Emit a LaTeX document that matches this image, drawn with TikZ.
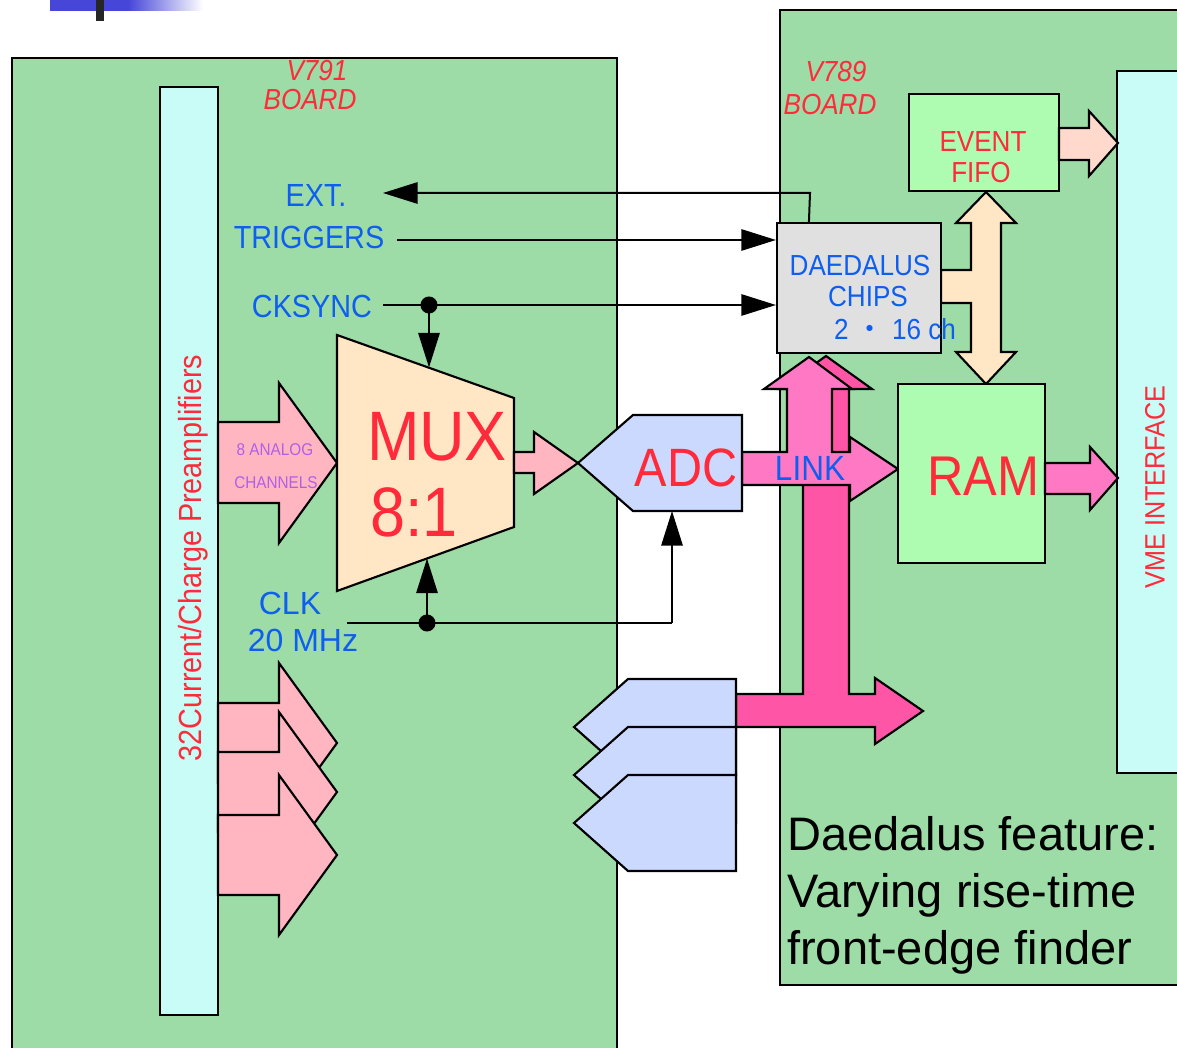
\documentclass[tikz,border=0pt]{standalone}
\usepackage{fontspec}
\usetikzlibrary{arrows.meta,calc}
\newfontfamily\condf[FakeStretch=0.9]{Liberation Sans}
\newfontfamily\plainf{Liberation Sans}
\newfontfamily\cjkf{Noto Sans CJK JP}
\newcommand\fsz[1]{\fontsize{#1}{#1}\selectfont}
\def\PX{0.75pt}
\definecolor{boardgreen}{HTML}{9DDCA7}
\definecolor{cyanbox}{HTML}{C9FBF7}
\definecolor{ltgreen}{HTML}{AEFCB1}
\definecolor{bisquec}{HTML}{FFE7C6}
\definecolor{ltpink}{HTML}{FFB6C1}
\definecolor{salmonc}{HTML}{FFD9CB}
\definecolor{hotlight}{HTML}{FF78C3}
\definecolor{hotdark}{HTML}{FF55A6}
\definecolor{adcblue}{HTML}{CCD9FF}
\definecolor{greybox}{HTML}{E0E0E0}
\definecolor{tred}{HTML}{FF2A3A}
\definecolor{tblue}{HTML}{0E5EF0}
\definecolor{tpurple}{HTML}{B05FE8}
\definecolor{decoblue}{HTML}{4646D8}
\begin{document}
\begin{tikzpicture}[x=0.75pt,y=-0.75pt,
  board/.style={draw=black, line width=1.5pt, fill=boardgreen, inner sep=0pt},
  colbox/.style={draw=black, line width=1.6pt, fill=cyanbox, inner sep=0pt},
  blk/.style={draw=black, line width=1.6pt, inner sep=0pt},
  shp/.style={draw=black, line width=1.6pt, line join=miter},
  sig/.style={draw=black, line width=1.5pt, -{Triangle[length=26pt,width=16pt]}},
  wire/.style={draw=black, line width=1.5pt},
  lbl/.style={inner sep=0pt, font=\condf\fsz{24}, text=tblue},
  ttl/.style={inner sep=0pt, font=\condf\itshape\fsz{21.75}, text=tred},
  feat/.style={inner sep=0pt, anchor=base west, font=\plainf\fsz{35.25}, text=black}
]
\useasboundingbox (0,0) rectangle (1177,1048);
\clip (0,0) rectangle (1177,1048);
\fill[white] (0,0) rectangle (1177,1048);

% decoration top-left
\fill[decoblue] (50,0) rectangle (129,11);
\shade[left color=decoblue, right color=white] (128,0) rectangle (203,11);
\fill[black!85] (96,0) rectangle (104,21);

% boards
\node[board, minimum width=605*\PX, minimum height=1002*\PX] (v791) at (314.5,559) {};
\node[board, minimum width=410*\PX, minimum height=975*\PX] (v789) at (985,497.5) {};

% columns
\node[colbox, minimum width=58*\PX, minimum height=928*\PX] (preamp) at (189,551) {};
\node[colbox, minimum width=73*\PX, minimum height=702*\PX] (vme) at (1153.5,422) {};

% preamp arrows
\filldraw[shp, fill=ltpink] (218,422) -- (279,422) -- (279,383) -- (337,463) -- (279,543) -- (279,503) -- (218,503) -- cycle;
\foreach \c in {743,792,855}{
  \filldraw[shp, fill=ltpink] (218,\c-40) -- (279,\c-40) -- (279,\c-80) -- (337,\c) -- (279,\c+80) -- (279,\c+40) -- (218,\c+40) -- cycle;
}

% MUX
\filldraw[shp, fill=bisquec] (337,335) coordinate (muxTL) -- (514,398) coordinate (muxTR) -- (514,527) coordinate (muxBR) -- (337,591) coordinate (muxBL) -- cycle;
\filldraw[shp, fill=ltpink] (514,452) -- (534,452) -- (534,432) -- (578,463) -- (534,494) -- (534,473) -- (514,473) -- cycle;

% dark pink bus (vertical + bottom)
\filldraw[shp, fill=hotdark] (736,694) -- (803,694) -- (803,389) -- (780,389) -- (826,356) -- (872,389) -- (849,389) -- (849,694) -- (875,694) -- (875,678) -- (923,711) -- (875,744) -- (875,727) -- (736,727) -- cycle;

% ADC stack
\foreach \t in {679,727,775}{
  \filldraw[shp, fill=adcblue] (574,\t+48) -- (628,\t) -- (736,\t) -- (736,\t+96) -- (628,\t+96) -- cycle;
}

% LINK light pink
\filldraw[shp, fill=hotlight] (742,452) -- (787,452) -- (787,389) -- (764,389) -- (809,357) -- (852,389) -- (832,389) -- (832,452) -- (850,452) -- (850,437) -- (898,469) -- (850,501) -- (850,485) -- (742,485) -- cycle;

% ADC
\filldraw[shp, fill=adcblue] (578,463) -- (633,415) -- (742,415) -- (742,511) coordinate (adcBR) -- (633,511) -- cycle;

% bisque double arrow
\filldraw[shp, fill=bisquec] (941,270) -- (971,270) -- (971,223) -- (956,223) -- (986,192) -- (1016,223) -- (1001,223) -- (1001,352) -- (1016,352) -- (986,384) -- (956,352) -- (971,352) -- (971,303) -- (941,303) -- cycle;

% boxes
\node[blk, fill=greybox, minimum width=164*\PX, minimum height=130*\PX] (daed) at (859,288) {};
\node[blk, fill=ltgreen, minimum width=150*\PX, minimum height=97*\PX] (fifo) at (984,142.5) {};
\node[blk, fill=ltgreen, minimum width=147*\PX, minimum height=179*\PX] (ram) at (971.5,473.5) {};

% arrows to VME
\filldraw[shp, fill=salmonc] (1059,128) -- (1089,128) -- (1089,111) -- (1118,143) -- (1089,176) -- (1089,160) -- (1059,160) -- cycle;
\filldraw[shp, fill=hotlight] (1045,463) -- (1090,463) -- (1090,447) -- (1118,478) -- (1090,510) -- (1090,494) -- (1045,494) -- cycle;

% signal lines
\coordinate (extEnd) at (383,193);
\coordinate (extTop) at (810,193);
\draw[sig] ($(daed.north west)+(33,0)$) -- (extTop) -- (extEnd);
\coordinate (trigS) at (397,240);
\draw[sig] (trigS) -- (trigS -| daed.west);
\coordinate (ckS) at (383,305);
\coordinate (ckDot) at (429,305);
\coordinate (muxTop) at (429,367.5);
\draw[sig] (ckS) -- (ckS -| daed.west);
\draw[sig] (ckDot) -- (muxTop);
\fill (ckDot) circle[radius=6.4pt];
\coordinate (clkS) at (347,623);
\coordinate (clkDot) at (427,623);
\coordinate (clkC) at (672,623);
\coordinate (adcBot) at (672,511);
\coordinate (muxBot) at (427,558.5);
\draw[wire] (clkS) -- (clkC);
\draw[sig] (clkC) -- (adcBot);
\draw[sig] (clkDot) -- (muxBot);
\fill (clkDot) circle[radius=6.4pt];

% texts
\node[ttl] (v791a) at (317,70.5) {V791};
\node[ttl] (v791b) at (310,99.5) {BOARD};
\node[ttl] (v789a) at (836,72) {V789};
\node[ttl] (v789b) at (830,104.5) {BOARD};
\node[lbl] (extT) at (316,195) {EXT.};
\node[lbl] (trigT) at (309,237) {TRIGGERS};
\node[lbl] (ckT) at (312,306) {CKSYNC};
\node[lbl, font=\plainf\fsz{24}] (clkT) at (290,603) {CLK};
\node[lbl, font=\plainf\fsz{24}] (mhzT) at (303,640) {20 MHz};
\node[lbl, font=\condf\fsz{21.75}] (daedT) at (860,266) {DAEDALUS};
\node[lbl, font=\condf\fsz{21.75}] (chipT) at (868,297) {CHIPS};
\node[lbl, font=\condf\fsz{21.75}] (chT) at (895,329) {2 {\cjkf ・} 16 ch};
\node[lbl, text=tred, font=\condf\fsz{21.75}] (evT) at (983,142) {EVENT};
\node[lbl, text=tred, font=\condf\fsz{21.75}] (fifoT) at (981,173) {FIFO};
\node[lbl, text=tred, font=\condf\fsz{42}] (ramT) at (983,476) {RAM};
\node[lbl, text=tred, font=\condf\fsz{40.5}] (adcT) at (686,468) {ADC};
\node[lbl, font=\condf\fsz{26.25}] (linkT) at (810,468) {LINK};
\node[lbl, text=tred, font=\condf\fsz{52.5}] (muxT) at (437,437) {MUX};
\node[lbl, text=tred, font=\condf\fsz{52.5}, anchor=west] (ratioT) at (370,512) {8:1};
\node[lbl, text=tpurple, font=\condf\fsz{12.75}] (anaT) at (275,450) {8 ANALOG};
\node[lbl, text=tpurple, font=\condf\fsz{12.75}] (chanT) at (276,483) {CHANNELS};
\node[lbl, text=tred, rotate=90, font=\condf\fsz{24}] (preT) at (193,558) {32Current/Charge Preamplifiers};
\node[lbl, text=tred, rotate=90, font=\condf\fsz{21}] (vmeT) at (1155,487) {VME INTERFACE};
\node[feat] (f1) at (787,850) {Daedalus feature:};
\node[feat] (f2) at (787,907) {Varying rise-time};
\node[feat] (f3) at (787,964) {front-edge finder};
\end{tikzpicture}
\end{document}
